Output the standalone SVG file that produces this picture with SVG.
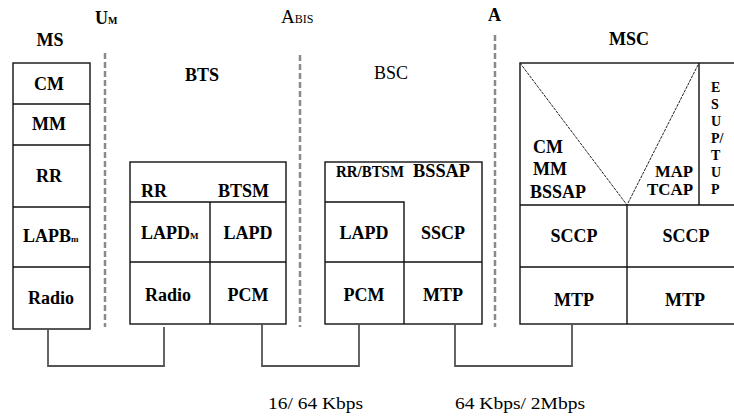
<svg xmlns="http://www.w3.org/2000/svg" width="734" height="416" viewBox="0 0 734 416">
<style>
.b{fill:none;stroke:#111;stroke-width:1.4}
.t{font-family:'Liberation Serif','DejaVu Serif',serif;font-weight:bold;font-size:18px;fill:#000}
.r{font-family:'Liberation Serif','DejaVu Serif',serif;font-size:17px;fill:#000}
.m{text-anchor:middle}
.d{stroke:#8a8a8a;stroke-width:2.5;stroke-dasharray:6 3;fill:none}
.c{fill:none;stroke:#555;stroke-width:1.8}
.v{fill:none;stroke:#222;stroke-width:1;stroke-dasharray:3 1}
</style>
<rect width="734" height="416" fill="#fff"/>
<g id="interfaces">
<line class="d" x1="105" y1="53" x2="105" y2="327"/>
<line class="d" x1="300" y1="55" x2="300" y2="327"/>
<line class="d" x1="495" y1="35" x2="495" y2="327"/>
<text class="t" x="95" y="24">U<tspan style="font-size:10px">M</tspan></text>
<text class="r" x="281" y="23" style="font-size:19px">A<tspan style="font-size:12px">BIS</tspan></text>
<text class="t" x="488" y="21">A</text>
</g>
<g id="ms">
<text class="t m" x="50" y="46">MS</text>
<rect class="b" x="13" y="63" width="77" height="266"/>
<line class="b" x1="13" y1="104" x2="90" y2="104"/>
<line class="b" x1="13" y1="145" x2="90" y2="145"/>
<line class="b" x1="13" y1="207" x2="90" y2="207"/>
<line class="b" x1="13" y1="267" x2="90" y2="267"/>
<text class="t m" x="49" y="90">CM</text>
<text class="t m" x="49" y="130">MM</text>
<text class="t m" x="49" y="182">RR</text>
<text class="t" x="23" y="242">LAPB<tspan style="font-size:9px">m</tspan></text>
<text class="t m" x="51" y="304">Radio</text>
</g>
<g id="bts">
<text class="t m" x="202" y="81">BTS</text>
<rect class="b" x="130" y="162" width="156" height="162"/>
<line class="b" x1="130" y1="202" x2="286" y2="202"/>
<line class="b" x1="130" y1="262" x2="286" y2="262"/>
<line class="b" x1="210" y1="202" x2="210" y2="324"/>
<text class="t" x="141" y="197">RR</text>
<text class="t" x="218" y="197">BTSM</text>
<text class="t" x="141" y="239">LAPD<tspan style="font-size:9px">M</tspan></text>
<text class="t m" x="248" y="239">LAPD</text>
<text class="t m" x="168" y="301">Radio</text>
<text class="t m" x="248" y="301">PCM</text>
</g>
<g id="bsc">
<text class="r m" x="391" y="79" style="font-size:18px">BSC</text>
<rect class="b" x="325" y="162" width="157" height="162"/>
<polyline class="b" points="325,202 404,202 404,324"/>
<line class="b" x1="325" y1="262" x2="482" y2="262"/>
<text class="t" x="336" y="177" style="font-size:16px" textLength="68" lengthAdjust="spacingAndGlyphs">RR/BTSM</text>
<text class="t" x="413" y="177" textLength="57" lengthAdjust="spacingAndGlyphs">BSSAP</text>
<text class="t m" x="364" y="239">LAPD</text>
<text class="t m" x="443" y="239">SSCP</text>
<text class="t m" x="364" y="301">PCM</text>
<text class="t m" x="443" y="301">MTP</text>
</g>
<g id="msc">
<text class="t m" x="629" y="45">MSC</text>
<rect class="b" x="520" y="63" width="230" height="261"/>
<line class="b" x1="520" y1="205" x2="740" y2="205"/>
<line class="b" x1="520" y1="267" x2="740" y2="267"/>
<line class="b" x1="627" y1="205" x2="627" y2="324"/>
<line class="b" x1="699" y1="63" x2="699" y2="205"/>
<polyline class="v" points="520,63 627,205 699,63"/>
<text class="t" x="533" y="153">CM</text>
<text class="t" x="533" y="175">MM</text>
<text class="t" x="530" y="198">BSSAP</text>
<text class="t" x="655" y="177" style="font-size:16px" textLength="38" lengthAdjust="spacingAndGlyphs">MAP</text>
<text class="t" x="647" y="195" style="font-size:16px" textLength="46" lengthAdjust="spacingAndGlyphs">TCAP</text>
<g style="font-size:14px">
<text class="t" x="711" y="92" style="font-size:14px">E</text>
<text class="t" x="711" y="109" style="font-size:14px">S</text>
<text class="t" x="711" y="126" style="font-size:14px">U</text>
<text class="t" x="711" y="143" style="font-size:14px">P/</text>
<text class="t" x="711" y="160" style="font-size:14px">T</text>
<text class="t" x="711" y="177" style="font-size:14px">U</text>
<text class="t" x="711" y="194" style="font-size:14px">P</text>
</g>
<text class="t m" x="574" y="242">SCCP</text>
<text class="t m" x="686" y="242">SCCP</text>
<text class="t m" x="574" y="306">MTP</text>
<text class="t m" x="685" y="306">MTP</text>
</g>
<g id="connectors">
<polyline class="c" points="48,329 48,366 164,366 164,327"/>
<polyline class="c" points="262,324 262,366 359,366 359,324"/>
<polyline class="c" points="455,324 455,366 572,366 572,324"/>
</g>
<g id="rates">
<text class="r" x="268" y="409" textLength="95" lengthAdjust="spacingAndGlyphs">16/ 64 Kbps</text>
<text class="r" x="455" y="409" textLength="130" lengthAdjust="spacingAndGlyphs">64 Kbps/ 2Mbps</text>
</g>
</svg>
